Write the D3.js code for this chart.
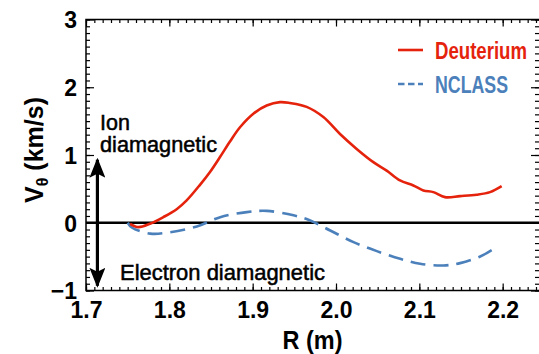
<!DOCTYPE html>
<html>
<head>
<meta charset="utf-8">
<script src="https://cdn.jsdelivr.net/npm/d3@7"></script>
<style>
  html, body { margin: 0; padding: 0; background: #fff; }
  svg { display: block; font-family: "Liberation Sans", Arial, Helvetica, sans-serif; }
</style>
</head>
<body>
<svg id="chart" width="539" height="354"></svg>
<script>
// Deuterium poloidal rotation (measured)
var deutR = [1.7528, 1.7628, 1.7768, 1.7928, 1.8088, 1.8208, 1.8368, 1.8488, 1.8608, 1.8728, 1.8848, 1.9008, 1.9168,
             1.9328, 1.9448, 1.9648, 1.9848, 2.0048, 2.0248, 2.0448, 2.0608, 2.0768, 2.0928, 2.1048, 2.1168, 2.1308,
             2.1488, 2.1688, 2.1848, 2.1988];
var deutV = [-0.015, -0.065, -0.015, 0.083, 0.2, 0.33, 0.56, 0.75, 0.97, 1.2, 1.41, 1.61, 1.73,
             1.78, 1.767, 1.71, 1.56, 1.31, 1.09, 0.895, 0.77, 0.625, 0.55, 0.477, 0.452, 0.378,
             0.393, 0.414, 0.452, 0.54];

// NCLASS prediction
var ncR = [1.750, 1.755, 1.777, 1.801, 1.833, 1.861, 1.893, 1.917, 1.949, 1.969, 1.993, 2.021, 2.049, 2.077, 2.101,
           2.129, 2.149, 2.173, 2.191];
var ncV = [0.0, -0.07, -0.16, -0.14, -0.055, 0.083, 0.157, 0.175, 0.11, 0.034, -0.114, -0.286, -0.419, -0.532, -0.606,
           -0.63, -0.596, -0.498, -0.37];

var xTicks = [1.7, 1.8, 1.9, 2.0, 2.1, 2.2];
var yTicks = [-1, 0, 1, 2, 3];
var seriesNames = ['Deuterium', 'NCLASS'];

(function() {
  var red = '#e5230d', blue = '#4b80bb';

  var svg = d3.select('#chart');
  var left = 86, right = 539, top = 19.5, bottom = 290.5;

  var x = d3.scaleLinear().domain([1.7, 2.2436]).range([left, right]);
  var y = d3.scaleLinear().domain([-1, 3]).range([bottom, top]);

  var xMinor = d3.range(1.70, 2.2436, 0.01);
  var yMinor = d3.range(-1, 3.0001, 0.1);

  function noLabels(a) { return a.tickFormat(''); }

  // minor ticks, all four sides, pointing inward
  svg.append('g').attr('transform', 'translate(0,' + bottom + ')')
    .call(noLabels(d3.axisBottom(x).tickValues(xMinor).tickSize(-3.5)));
  svg.append('g').attr('transform', 'translate(0,' + top + ')')
    .call(noLabels(d3.axisTop(x).tickValues(xMinor).tickSize(-3.5)));
  svg.append('g').attr('transform', 'translate(' + left + ',0)')
    .call(noLabels(d3.axisLeft(y).tickValues(yMinor).tickSize(-4)));
  svg.append('g').attr('transform', 'translate(' + right + ',0)')
    .call(noLabels(d3.axisRight(y).tickValues(yMinor).tickSize(-4)));

  // major ticks
  svg.append('g').attr('class', 'xaxis').attr('transform', 'translate(0,' + bottom + ')')
    .call(d3.axisBottom(x).tickValues(xTicks).tickSize(-7).tickPadding(11).tickFormat(d3.format('.1f')));
  svg.append('g').attr('transform', 'translate(0,' + top + ')')
    .call(noLabels(d3.axisTop(x).tickValues(xTicks).tickSize(-7)));
  svg.append('g').attr('class', 'yaxis').attr('transform', 'translate(' + left + ',0)')
    .call(d3.axisLeft(y).tickValues(yTicks).tickSize(-8).tickPadding(9).tickFormat(d3.format('d')));
  svg.append('g').attr('transform', 'translate(' + right + ',0)')
    .call(noLabels(d3.axisRight(y).tickValues(yTicks).tickSize(-8)));

  svg.selectAll('.domain').remove();
  svg.selectAll('.tick line').attr('stroke', '#000').attr('stroke-width', 1.2);
  svg.selectAll('.xaxis text, .yaxis text')
    .attr('fill', '#000').style('font-size', '23px').style('font-weight', 'bold');
  svg.selectAll('.yaxis text').attr('dy', '0.36em');

  // frame
  svg.append('rect')
    .attr('x', left).attr('y', top)
    .attr('width', right - left + 2).attr('height', bottom - top)
    .attr('fill', 'none').attr('stroke', '#000').attr('stroke-width', 1.5);

  // zero line
  svg.append('line')
    .attr('x1', left).attr('x2', right)
    .attr('y1', y(0)).attr('y2', y(0))
    .attr('stroke', '#000').attr('stroke-width', 2.4);

  var line = d3.line().curve(d3.curveCatmullRom.alpha(0.5))
    .x(function(d) { return x(d[0]); })
    .y(function(d) { return y(d[1]); });

  svg.append('path')
    .datum(d3.zip(ncR, ncV))
    .attr('d', line)
    .attr('fill', 'none').attr('stroke', blue).attr('stroke-width', 2.6)
    .attr('stroke-dasharray', '15,8');

  svg.append('path')
    .datum(d3.zip(deutR, deutV))
    .attr('d', line)
    .attr('fill', 'none').attr('stroke', red).attr('stroke-width', 2.6);

  // double arrow (ion / electron diamagnetic directions)
  var ax = x(1.7137);
  var defs = svg.append('defs');
  ['up', 'down'].forEach(function(dir) {
    defs.append('marker')
      .attr('id', 'head-' + dir)
      .attr('viewBox', '0 0 16 20')
      .attr('refX', 8).attr('refY', dir === 'up' ? 2 : 18)
      .attr('markerWidth', 16).attr('markerHeight', 20)
      .attr('markerUnits', 'userSpaceOnUse')
      .attr('orient', '0')
      .append('path')
      .attr('d', dir === 'up' ? 'M8,0 L16,20 L8,16 L0,20 Z' : 'M8,20 L16,0 L8,4 L0,0 Z')
      .attr('fill', '#000');
  });
  svg.append('line')
    .attr('x1', ax).attr('x2', ax)
    .attr('y1', y(0.93)).attr('y2', y(-0.93))
    .attr('stroke', '#000').attr('stroke-width', 3.2)
    .attr('marker-start', 'url(#head-up)')
    .attr('marker-end', 'url(#head-down)');

  var note = svg.append('g').attr('fill', '#000').style('font-size', '21.5px');
  note.append('text').attr('x', 100).attr('y', 130).text('Ion')
    .attr('stroke', '#000').attr('stroke-width', 0.5);
  note.append('text').attr('x', 100).attr('y', 152).text('diamagnetic')
    .attr('stroke', '#000').attr('stroke-width', 0.5)
    .attr('textLength', 117).attr('lengthAdjust', 'spacingAndGlyphs');
  note.append('text').attr('x', 120).attr('y', 280).text('Electron diamagnetic')
    .attr('stroke', '#000').attr('stroke-width', 0.5)
    .attr('textLength', 205).attr('lengthAdjust', 'spacingAndGlyphs');

  // axis titles
  svg.append('text')
    .attr('x', (left + right) / 2).attr('y', 349)
    .attr('text-anchor', 'middle')
    .style('font-size', '25px').style('font-weight', 'bold')
    .attr('textLength', 60).attr('lengthAdjust', 'spacingAndGlyphs')
    .text('R (m)');

  var yl = svg.append('text')
    .attr('transform', 'translate(43,150) rotate(-90)')
    .attr('text-anchor', 'middle')
    .style('font-size', '25px').style('font-weight', 'bold');
  yl.append('tspan').text('V');
  yl.append('tspan').attr('dy', 5).style('font-size', '16px').text('\u03b8');
  yl.append('tspan').attr('dy', -5).text(' (km/s)');

  // legend
  var legend = svg.append('g');
  var legY = [50, 84];
  var legColors = [red, blue];
  var legDash = [null, '6.5,3.5'];
  var legWidth = [92, 73];
  seriesNames.forEach(function(name, i) {
    legend.append('line')
      .attr('x1', 398).attr('x2', 423)
      .attr('y1', legY[i]).attr('y2', legY[i])
      .attr('stroke', legColors[i]).attr('stroke-width', 2.6)
      .attr('stroke-dasharray', legDash[i]);
    legend.append('text')
      .attr('x', 435).attr('y', legY[i] + 8.5)
      .attr('fill', legColors[i])
      .style('font-size', '23.5px').style('font-weight', 'bold')
      .attr('textLength', legWidth[i]).attr('lengthAdjust', 'spacingAndGlyphs')
      .text(name);
  });
})();
</script>
</body>
</html>
